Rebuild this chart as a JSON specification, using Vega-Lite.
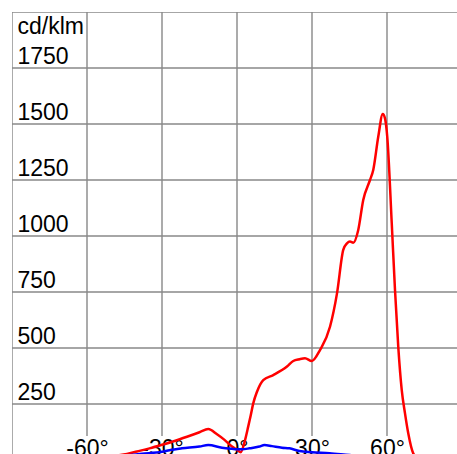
{
  "$schema": "https://vega.github.io/schema/vega-lite/v6.json",
  "width": 445,
  "height": 442,
  "autosize": {"type": "none"},
  "padding": {"left": 12, "top": 12, "right": 0, "bottom": 0},
  "background": "white",
  "config": {
    "view": {"stroke": null},
    "font": "Liberation Sans",
    "axisX": {
      "orient": "bottom",
      "grid": false,
      "domain": false,
      "ticks": false,
      "tickSize": 0,
      "labelPadding": 1,
      "labelBaseline": "alphabetic",
      "labelFontSize": 23,
      "labelColor": "black",
      "labelFont": "Liberation Sans",
      "labelFlush": false,
      "labelOverlap": false
    },
    "axisY": {
      "grid": false,
      "domain": false,
      "ticks": false,
      "tickSize": 0,
      "labelPadding": -5,
      "labelAlign": "left",
      "labelBaseline": "alphabetic",
      "labelOffset": -5,
      "labelFontSize": 23,
      "labelColor": "black",
      "labelFont": "Liberation Sans",
      "labelOverlap": false,
      "labelFlush": false,
      "titleAngle": 0,
      "titleAlign": "left",
      "titleBaseline": "alphabetic",
      "titleX": 5,
      "titleY": 21.5,
      "titleFontSize": 23,
      "titleFontWeight": "normal",
      "titleFont": "Liberation Sans",
      "titleColor": "black"
    }
  },
  "datasets": {
    "curves": [
      {"angle": -90, "value": 3, "plane": "red"},
      {"angle": -60, "value": 10, "plane": "red"},
      {"angle": -48, "value": 20, "plane": "red"},
      {"angle": -44, "value": 27, "plane": "red"},
      {"angle": -40, "value": 38, "plane": "red"},
      {"angle": -35, "value": 52, "plane": "red"},
      {"angle": -30, "value": 68, "plane": "red"},
      {"angle": -25, "value": 85, "plane": "red"},
      {"angle": -20, "value": 104, "plane": "red"},
      {"angle": -15, "value": 124, "plane": "red"},
      {"angle": -11.5, "value": 138, "plane": "red"},
      {"angle": -8, "value": 115, "plane": "red"},
      {"angle": -5, "value": 90, "plane": "red"},
      {"angle": -2, "value": 60, "plane": "red"},
      {"angle": 0, "value": 46, "plane": "red"},
      {"angle": 1.5, "value": 35, "plane": "red"},
      {"angle": 3, "value": 80, "plane": "red"},
      {"angle": 4.5, "value": 150, "plane": "red"},
      {"angle": 5.5, "value": 200, "plane": "red"},
      {"angle": 6.5, "value": 253, "plane": "red"},
      {"angle": 8, "value": 305, "plane": "red"},
      {"angle": 10.5, "value": 357, "plane": "red"},
      {"angle": 14.5, "value": 379, "plane": "red"},
      {"angle": 20, "value": 417, "plane": "red"},
      {"angle": 22.5, "value": 442, "plane": "red"},
      {"angle": 25, "value": 450, "plane": "red"},
      {"angle": 27.2, "value": 454, "plane": "red"},
      {"angle": 29.9, "value": 442, "plane": "red"},
      {"angle": 33.2, "value": 491, "plane": "red"},
      {"angle": 37.2, "value": 595, "plane": "red"},
      {"angle": 40, "value": 744, "plane": "red"},
      {"angle": 42.5, "value": 938, "plane": "red"},
      {"angle": 44, "value": 967, "plane": "red"},
      {"angle": 45.2, "value": 975, "plane": "red"},
      {"angle": 46.5, "value": 970, "plane": "red"},
      {"angle": 48.5, "value": 1027, "plane": "red"},
      {"angle": 50.5, "value": 1161, "plane": "red"},
      {"angle": 53.2, "value": 1250, "plane": "red"},
      {"angle": 54.5, "value": 1295, "plane": "red"},
      {"angle": 56.5, "value": 1443, "plane": "red"},
      {"angle": 58.3, "value": 1545, "plane": "red"},
      {"angle": 59.2, "value": 1525, "plane": "red"},
      {"angle": 60.1, "value": 1443, "plane": "red"},
      {"angle": 61.9, "value": 1057, "plane": "red"},
      {"angle": 63.2, "value": 759, "plane": "red"},
      {"angle": 64.5, "value": 506, "plane": "red"},
      {"angle": 65.9, "value": 312, "plane": "red"},
      {"angle": 67.2, "value": 208, "plane": "red"},
      {"angle": 68.5, "value": 119, "plane": "red"},
      {"angle": 70.5, "value": 30, "plane": "red"},
      {"angle": 73, "value": 5, "plane": "red"},
      {"angle": 90, "value": 0, "plane": "red"},
      {"angle": -90, "value": 3, "plane": "blue"},
      {"angle": -60, "value": 10, "plane": "blue"},
      {"angle": -45, "value": 20, "plane": "blue"},
      {"angle": -38, "value": 28, "plane": "blue"},
      {"angle": -30, "value": 37, "plane": "blue"},
      {"angle": -27, "value": 44, "plane": "blue"},
      {"angle": -22, "value": 52, "plane": "blue"},
      {"angle": -15, "value": 60, "plane": "blue"},
      {"angle": -11.5, "value": 67, "plane": "blue"},
      {"angle": -6, "value": 55, "plane": "blue"},
      {"angle": -2, "value": 50, "plane": "blue"},
      {"angle": 0, "value": 48, "plane": "blue"},
      {"angle": 2, "value": 48, "plane": "blue"},
      {"angle": 5, "value": 52, "plane": "blue"},
      {"angle": 9, "value": 60, "plane": "blue"},
      {"angle": 11, "value": 67, "plane": "blue"},
      {"angle": 14, "value": 62, "plane": "blue"},
      {"angle": 18, "value": 55, "plane": "blue"},
      {"angle": 21, "value": 52, "plane": "blue"},
      {"angle": 25, "value": 40, "plane": "blue"},
      {"angle": 30, "value": 35, "plane": "blue"},
      {"angle": 37, "value": 30, "plane": "blue"},
      {"angle": 45, "value": 22, "plane": "blue"},
      {"angle": 60, "value": 10, "plane": "blue"},
      {"angle": 90, "value": 3, "plane": "blue"}
    ],
    "hgrid": [
      {"v": 250}, {"v": 500}, {"v": 750}, {"v": 1000},
      {"v": 1250}, {"v": 1500}, {"v": 1750}, {"v": 2000}
    ],
    "vgrid": [
      {"a": -90, "top": 2000, "bottom": 0},
      {"a": -60, "top": 2000, "bottom": 107},
      {"a": -30, "top": 2000, "bottom": 107},
      {"a": 0, "top": 2000, "bottom": 107},
      {"a": 30, "top": 2000, "bottom": 107},
      {"a": 60, "top": 2000, "bottom": 107}
    ]
  },
  "layer": [
    {
      "data": {"name": "vgrid"},
      "mark": {"type": "rule", "color": "#ababab", "strokeWidth": 2, "clip": true},
      "encoding": {
        "x": {
          "field": "a",
          "type": "quantitative",
          "title": null,
          "scale": {"domain": [-90, 88], "nice": false, "zero": false},
          "axis": {
            "values": [-60, -30, 0, 30, 60],
            "labelExpr": "toString(datum.value) + '°'",
            "title": null
          }
        },
        "y": {
          "field": "top",
          "type": "quantitative",
          "title": "cd/klm",
          "scale": {"domain": [26.8, 2000], "nice": false, "zero": false},
          "axis": {
            "values": [250, 500, 750, 1000, 1250, 1500, 1750],
            "format": "d",
            "title": "cd/klm"
          }
        },
        "y2": {"field": "bottom"}
      }
    },
    {
      "data": {"name": "hgrid"},
      "mark": {"type": "rule", "color": "#888888", "strokeWidth": 1.5, "clip": true},
      "encoding": {
        "y": {
          "field": "v",
          "type": "quantitative",
          "title": "cd/klm",
          "axis": {
            "values": [250, 500, 750, 1000, 1250, 1500, 1750],
            "format": "d",
            "title": "cd/klm"
          }
        }
      }
    },
    {
      "data": {"name": "curves"},
      "mark": {"type": "line", "interpolate": "monotone", "strokeWidth": 2.5, "clip": true},
      "encoding": {
        "x": {
          "field": "angle",
          "type": "quantitative",
          "title": null,
          "axis": {
            "values": [-60, -30, 0, 30, 60],
            "labelExpr": "toString(datum.value) + '°'",
            "title": null
          }
        },
        "y": {
          "field": "value",
          "type": "quantitative",
          "title": "cd/klm",
          "axis": {
            "values": [250, 500, 750, 1000, 1250, 1500, 1750],
            "format": "d",
            "title": "cd/klm"
          }
        },
        "color": {
          "field": "plane",
          "type": "nominal",
          "scale": {"domain": ["red", "blue"], "range": ["#ff0000", "#0000ff"]},
          "legend": null
        }
      }
    }
  ]
}
